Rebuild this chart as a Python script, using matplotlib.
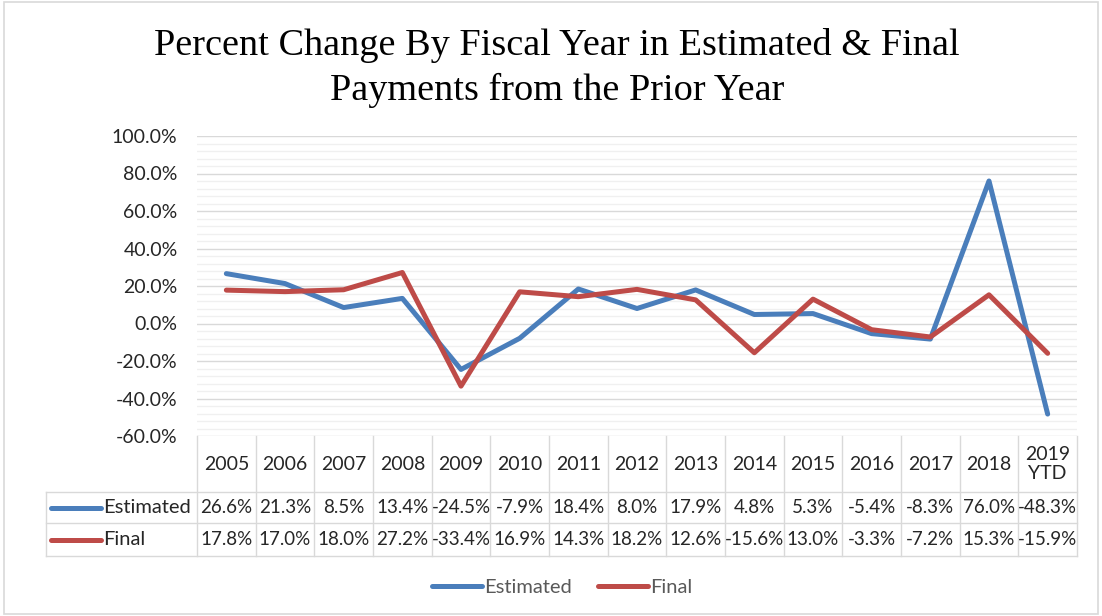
import matplotlib
matplotlib.use("Agg")
import matplotlib.pyplot as plt
from matplotlib.patches import Rectangle
from matplotlib.ticker import MultipleLocator, PercentFormatter

years = ["2005", "2006", "2007", "2008", "2009", "2010", "2011", "2012",
         "2013", "2014", "2015", "2016", "2017", "2018", "2019\nYTD"]
estimated = [26.6, 21.3, 8.5, 13.4, -24.5, -7.9, 18.4, 8.0, 17.9, 4.8, 5.3,
             -5.4, -8.3, 76.0, -48.3]
final = [17.8, 17.0, 18.0, 27.2, -33.4, 16.9, 14.3, 18.2, 12.6, -15.6, 13.0,
         -3.3, -7.2, 15.3, -15.9]

BLUE = "#4A7EBB"
RED = "#BE4B48"
GRID = "#D9D9D9"
TEXT = "#262626"

W, H = 1102, 616
plt.rcParams["font.family"] = ["Lato", "DejaVu Sans"]
plt.rcParams["axes.unicode_minus"] = False
fig = plt.figure(figsize=(W / 100, H / 100), dpi=100)


def px_box(x0, y0, x1, y1):
    # pixel box (top-left origin) -> figure fraction rect
    return [x0 / W, 1 - y1 / H, (x1 - x0) / W, (y1 - y0) / H]


# outer chart border
fig.patches.append(Rectangle((4 / W, 2 / H), 1 - 8 / W, 1 - 4 / H,
                             transform=fig.transFigure, fill=False,
                             edgecolor=GRID, lw=1.2))

fig.text(557 / W, 1 - 68 / H,
         "Percent Change By Fiscal Year in Estimated & Final\nPayments from the Prior Year",
         ha="center", va="center", fontsize=27.5, family="Liberation Serif",
         color="black", linespacing=1.4)

left, right, top, bottom = 197, 1077, 136, 436
ax = fig.add_axes(px_box(left, top, right, bottom))
x = list(range(len(years)))
ax.plot(x, estimated, color=BLUE, lw=3.6, solid_capstyle="round", label="Estimated", zorder=3)
ax.plot(x, final, color=RED, lw=3.6, solid_capstyle="round", label="Final", zorder=3)
ax.set_xlim(-0.5, len(years) - 0.5)
ax.set_ylim(-60, 100)
ax.yaxis.set_major_locator(MultipleLocator(20))
ax.yaxis.set_minor_locator(MultipleLocator(4))
ax.yaxis.set_major_formatter(PercentFormatter(decimals=1))
ax.grid(axis="y", which="major", color=GRID, lw=1)
ax.grid(axis="y", which="minor", color="#F0F0F0", lw=1)
ax.set_axisbelow(True)
ax.set_xticks([])
ax.tick_params(axis="y", which="both", length=0, labelsize=14, colors=TEXT, pad=14)
for s in ax.spines.values():
    s.set_visible(False)

# data table under the plot
tab = fig.add_axes(px_box(left, bottom, right, 556))
tab.set_xlim(-0.5, len(years) - 0.5)
tab.set_ylim(120, 0)
tab.axis("off")
col_w = (right - left) / len(years)
lab_left = -0.5 - (left - 46) / col_w
row_y = [0, 56, 87, 120]
for xv in [i - 0.5 for i in range(len(years) + 1)]:
    tab.plot([xv, xv], [0, 120], color=GRID, lw=1, clip_on=False)
tab.plot([lab_left, lab_left], [56, 120], color=GRID, lw=1, clip_on=False)
for yv in row_y[1:]:
    tab.plot([lab_left, len(years) - 0.5], [yv, yv], color=GRID, lw=1, clip_on=False)

for i, yr in enumerate(years):
    tab.text(i, 28, yr, ha="center", va="center", fontsize=14, color=TEXT,
             linespacing=1.1)
    tab.text(i, 71.5, f"{estimated[i]:.1f}%", ha="center", va="center",
             fontsize=13.5, color=TEXT)
    tab.text(i, 103.5, f"{final[i]:.1f}%", ha="center", va="center",
             fontsize=13.5, color=TEXT)

icon_w = 50 / col_w
for yv, name, c in [(71.5, "Estimated", BLUE), (103.5, "Final", RED)]:
    tab.plot([lab_left + 5 / col_w, lab_left + 5 / col_w + icon_w], [yv, yv],
             color=c, lw=3.6, solid_capstyle="round", clip_on=False)
    tab.text(lab_left + 57 / col_w, yv, name, ha="left", va="center",
             fontsize=14.5, color=TEXT)

handles, labels = ax.get_legend_handles_labels()
fig.legend(handles, labels, loc="center", bbox_to_anchor=(562 / W, 1 - 587 / H),
           ncol=2, frameon=False, handlelength=2.5, handletextpad=0.1,
           columnspacing=1.3, fontsize=14.5, labelcolor="#595959")

fig.savefig("out.png", dpi=100)
